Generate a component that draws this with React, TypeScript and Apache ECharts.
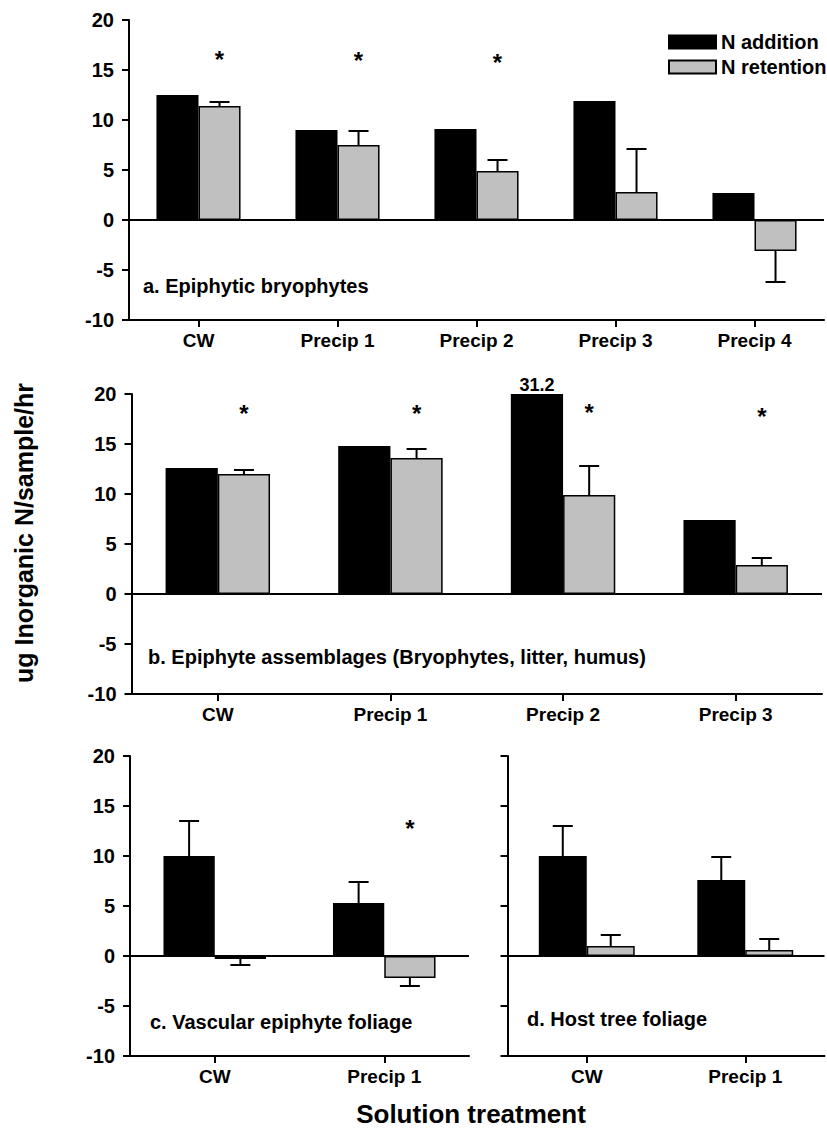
import React, { useEffect, useRef } from "react";
import * as echarts from "echarts";

const FONT = '"Liberation Sans", Arial, Helvetica, sans-serif';

// ---------- data ----------
const yTicksMin = -10;
const yTicksMax = 20;
const yTickStep = 5;

// a. Epiphytic bryophytes
const catsA = ["CW", "Precip 1", "Precip 2", "Precip 3", "Precip 4"];
const addA = [12.5, 9.0, 9.1, 11.9, 2.7];
const addErrA: (number | null)[] = [null, null, null, null, null];
const retA = [11.4, 7.5, 4.9, 2.8, -3.1];
const retErrA: (number | null)[] = [0.4, 1.4, 1.1, 4.3, 3.1];
const starA: (number | null)[] = [16.7, 16.6, 16.4, null, null];

// b. Epiphyte assemblages
const catsB = ["CW", "Precip 1", "Precip 2", "Precip 3"];
const addB = [12.6, 14.8, 31.2, 7.4];
const addErrB: (number | null)[] = [null, null, null, null];
const retB = [12.0, 13.6, 9.9, 2.9];
const retErrB: (number | null)[] = [0.4, 0.9, 2.9, 0.7];
const starB: (number | null)[] = [18.7, 18.7, 18.8, 18.4];

// c. Vascular epiphyte foliage
const catsC = ["CW", "Precip 1"];
const addC = [10.0, 5.3];
const addErrC: (number | null)[] = [3.5, 2.1];
const retC = [-0.3, -2.2];
const retErrC: (number | null)[] = [0.6, 0.8];
const starC: (number | null)[] = [null, 13.4];

// d. Host tree foliage
const catsD = ["CW", "Precip 1"];
const addD = [10.0, 7.6];
const addErrD: (number | null)[] = [3.0, 2.3];
const retD = [1.0, 0.6];
const retErrD: (number | null)[] = [1.1, 1.1];
const starD: (number | null)[] = [null, null];

const seriesNames = ["N addition", "N retention"];
const panelLabels = [
  "a. Epiphytic bryophytes",
  "b. Epiphyte assemblages (Bryophytes, litter, humus)",
  "c. Vascular epiphyte foliage",
  "d. Host tree foliage",
];
const yTitle = "ug Inorganic N/sample/hr";
const xTitle = "Solution treatment";

// ---------- layout ----------
const grids = [
  { left: 129, top: 20, width: 695, height: 300 },
  { left: 131.5, top: 394, width: 690.5, height: 300 },
  { left: 130, top: 756, width: 339, height: 300 },
  { left: 507.5, top: 756, width: 317, height: 300 },
];
const labelPos = [
  [143, 287],
  [148, 658],
  [150, 1023],
  [527, 1020],
];
const CAT_GAP = 0.395;
const BAR_FRAC = (1 - CAT_GAP) / 4; // offset of each bar center from category center

function buildPanel(
  gi: number,
  cats: string[],
  add: number[],
  addErr: (number | null)[],
  ret: number[],
  retErr: (number | null)[],
  stars: (number | null)[],
  showYLabels: boolean
) {
  const xAxis = {
    type: "category",
    gridIndex: gi,
    data: cats,
    position: "bottom",
    axisLine: { show: true, onZero: false, lineStyle: { color: "#000", width: 2 } },
    axisTick: { show: true, alignWithLabel: true, length: 7, lineStyle: { color: "#000", width: 2 } },
    axisLabel: { color: "#000", fontFamily: FONT, fontWeight: "bold", fontSize: 19, margin: 11 },
    splitLine: { show: false },
  };
  const yAxis = {
    type: "value",
    gridIndex: gi,
    min: yTicksMin,
    max: yTicksMax,
    interval: yTickStep,
    axisLine: { show: true, lineStyle: { color: "#000", width: 2 } },
    axisTick: { show: true, length: 7, lineStyle: { color: "#000", width: 2 } },
    axisLabel: {
      show: showYLabels,
      color: "#000",
      fontFamily: FONT,
      fontWeight: "bold",
      fontSize: 20,
      margin: 15,
    },
    splitLine: { show: false },
  };

  const barLabel = {
    show: true,
    position: "top",
    distance: 0,
    color: "#000",
    fontFamily: FONT,
    fontWeight: "bold",
    fontSize: 18,
  };

  const addBar = {
    name: seriesNames[0],
    type: "bar",
    xAxisIndex: gi,
    yAxisIndex: gi,
    barGap: "0%",
    barCategoryGap: CAT_GAP * 100 + "%",
    itemStyle: { color: "#000", borderColor: "#000", borderWidth: 1.5 },
    data: add.map((v) =>
      v > yTicksMax
        ? { value: yTicksMax, label: { ...barLabel, formatter: String(v) } }
        : { value: v }
    ),
    markLine: {
      silent: true,
      symbol: ["none", "none"],
      label: { show: false },
      lineStyle: { color: "#000", width: 2, type: "solid" },
      data: [{ yAxis: 0 }],
    },
    z: 2,
  };
  const retBar = {
    name: seriesNames[1],
    type: "bar",
    xAxisIndex: gi,
    yAxisIndex: gi,
    barGap: "0%",
    barCategoryGap: CAT_GAP * 100 + "%",
    itemStyle: { color: "#c0c0c0", borderColor: "#000", borderWidth: 1.5 },
    data: ret.map((v) => ({ value: v })),
    z: 2,
  };

  const errData: number[][] = [];
  add.forEach((v, i) => {
    if (addErr[i] != null) errData.push([i, Math.min(v, yTicksMax), addErr[i] as number, 0]);
  });
  ret.forEach((v, i) => {
    if (retErr[i] != null) errData.push([i, v, retErr[i] as number, 1]);
  });

  const errSeries = {
    type: "custom",
    xAxisIndex: gi,
    yAxisIndex: gi,
    silent: true,
    z: 5,
    encode: { x: 0, y: 1 },
    data: errData,
    renderItem: (params: any, api: any) => {
      const ci = api.value(0);
      const v = api.value(1);
      const e = api.value(2);
      const which = api.value(3);
      const band = api.size([1, 0])[0];
      const cx = api.coord([ci, 0])[0] + (which === 0 ? -1 : 1) * band * BAR_FRAC;
      const y0 = api.coord([ci, v])[1];
      const y1 = api.coord([ci, v >= 0 ? v + e : v - e])[1];
      const half = 10;
      const ls = { stroke: "#000", lineWidth: 2 };
      return {
        type: "group",
        children: [
          { type: "line", shape: { x1: cx, y1: y0, x2: cx, y2: y1 }, style: ls },
          { type: "line", shape: { x1: cx - half, y1: y1, x2: cx + half, y2: y1 }, style: ls },
        ],
      };
    },
  };

  const starData: number[][] = [];
  stars.forEach((s, i) => {
    if (s != null) starData.push([i, s]);
  });
  const starSeries = {
    type: "custom",
    xAxisIndex: gi,
    yAxisIndex: gi,
    silent: true,
    z: 6,
    encode: { x: 0, y: 1 },
    data: starData,
    renderItem: (params: any, api: any) => {
      const ci = api.value(0);
      const band = api.size([1, 0])[0];
      const p = api.coord([ci, api.value(1)]);
      return {
        type: "text",
        x: p[0] + band * BAR_FRAC,
        y: p[1] + 6,
        style: {
          text: "*",
          fill: "#000",
          fontFamily: FONT,
          fontWeight: "bold",
          fontSize: 24,
          align: "center",
          verticalAlign: "middle",
        },
      };
    },
  };

  return { xAxis, yAxis, series: [addBar, retBar, errSeries, starSeries] };
}

export default function App() {
  const ref = useRef<HTMLDivElement>(null);

  useEffect(() => {
    if (!ref.current) return;
    const chart = echarts.init(ref.current, undefined, { renderer: "svg" });

    const panels = [
      buildPanel(0, catsA, addA, addErrA, retA, retErrA, starA, true),
      buildPanel(1, catsB, addB, addErrB, retB, retErrB, starB, true),
      buildPanel(2, catsC, addC, addErrC, retC, retErrC, starC, true),
      buildPanel(3, catsD, addD, addErrD, retD, retErrD, starD, false),
    ];

    const labelGraphics = panelLabels.map((t, i) => ({
      type: "text",
      left: labelPos[i][0],
      top: labelPos[i][1] - 11,
      style: {
        text: t,
        fill: "#000",
        fontFamily: FONT,
        fontWeight: "bold",
        fontSize: 20,
      },
    }));

    const option = {
      animation: false,
      backgroundColor: "#fff",
      textStyle: { fontFamily: FONT },
      grid: grids.map((g) => ({ ...g, containLabel: false })),
      xAxis: panels.map((p) => p.xAxis),
      yAxis: panels.map((p) => p.yAxis),
      legend: {
        data: seriesNames,
        orient: "vertical",
        left: 663,
        top: 27,
        itemWidth: 47,
        itemHeight: 13,
        itemGap: 5,
        selectedMode: false,
        icon: "rect",
        textStyle: { color: "#000", fontFamily: FONT, fontWeight: "bold", fontSize: 20 },
      },
      graphic: [
        ...labelGraphics,
        {
          type: "text",
          x: 24,
          y: 533,
          rotation: Math.PI / 2,
          style: {
            text: yTitle,
            fill: "#000",
            fontFamily: FONT,
            fontWeight: "bold",
            fontSize: 25,
            align: "center",
            verticalAlign: "middle",
          },
        },
        {
          type: "text",
          x: 471,
          y: 1114,
          style: {
            text: xTitle,
            fill: "#000",
            fontFamily: FONT,
            fontWeight: "bold",
            fontSize: 26,
            align: "center",
            verticalAlign: "middle",
          },
        },
      ],
      series: panels.flatMap((p) => p.series),
    };

    chart.setOption(option as any);
    return () => chart.dispose();
  }, []);

  return (
    <div
      ref={ref}
      style={{ position: "fixed", left: 0, top: 0, width: 827, height: 1131, background: "#fff" }}
    />
  );
}
